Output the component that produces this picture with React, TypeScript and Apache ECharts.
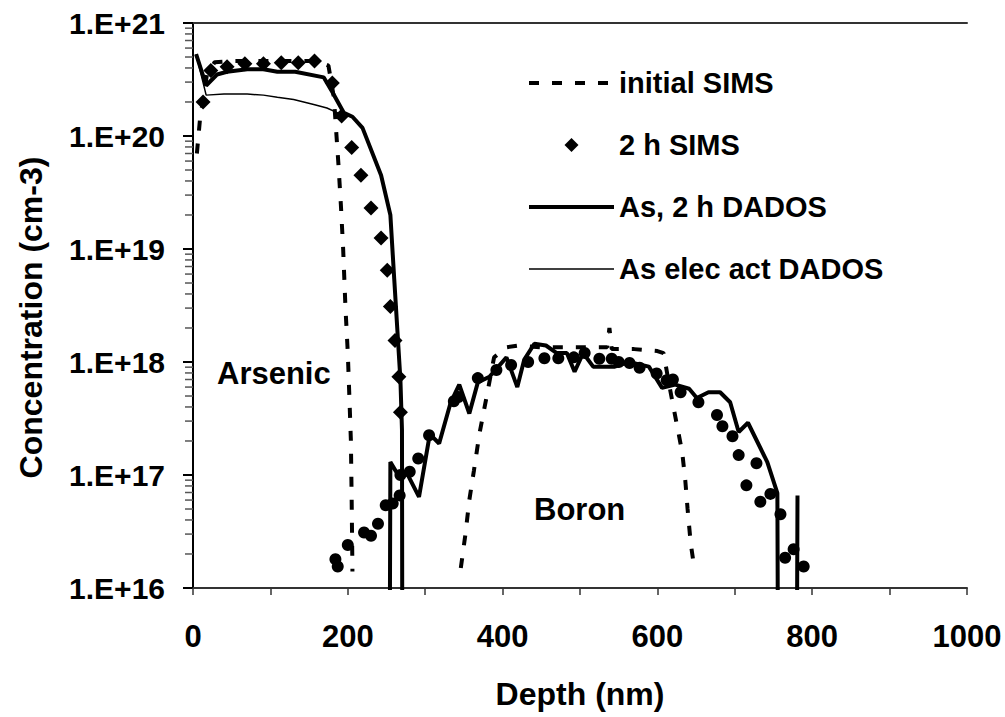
import React, { useEffect, useRef } from "react";
import * as echarts from "echarts";

// ---- data (depth nm, concentration cm-3) ----
const asInitialSims: [number, number][] = [
  [5, 7e19], [9, 1.4e20], [18, 3.5e20], [28, 4.5e20], [50, 4.6e20], [80, 4.6e20],
  [110, 4.6e20], [140, 4.6e20], [160, 4.6e20], [175, 4.2e20], [182, 2.2e20],
  [185, 1.1e20], [188, 5.5e19], [191, 2.5e19], [194, 1e19], [197, 3e18],
  [200, 1.2e18], [202, 5e17], [204, 2e17], [205, 6e16], [206, 1.4e16],
];

const bInitialSims: [number, number][] = [
  [346, 1.5e16], [352, 3e16], [357, 6e16], [363, 1.1e17], [370, 2.3e17], [379, 4.8e17],
  [389, 1.1e18], [405, 1.35e18], [420, 1.4e18], [450, 1.35e18], [480, 1.35e18],
  [510, 1.35e18], [535, 1.35e18], [538, 2e18], [541, 1.3e18], [570, 1.3e18],
  [600, 1.25e18], [608, 1.2e18], [614, 7e17], [619, 4.6e17], [626, 2.6e17],
  [632, 1.6e17], [636, 9e16], [639, 5e16], [643, 2.5e16], [648, 1.45e16],
];

const as2hSims: [number, number][] = [
  [13, 2e20], [23, 3.8e20], [44, 4.1e20], [67, 4.35e20], [91, 4.35e20], [114, 4.45e20],
  [136, 4.45e20], [157, 4.6e20], [180, 2.95e20], [192, 1.5e20], [205, 7.9e19],
  [217, 4.5e19], [230, 2.3e19], [243, 1.25e19], [251, 6.5e18], [255, 3.1e18],
  [261, 1.55e18], [266, 7.4e17], [268, 3.6e17],
];

const b2hSims: [number, number][] = [
  [184, 1.8e16], [187, 1.55e16], [200, 2.4e16], [221, 3.1e16], [230, 2.9e16],
  [239, 3.7e16], [249, 5.4e16], [258, 5.6e16], [267, 6.6e16], [268, 1.0e17],
  [280, 1.07e17], [291, 1.4e17], [305, 2.25e17], [337, 4.5e17], [343, 4.9e17],
  [368, 7.2e17], [392, 8.5e17], [411, 9.4e17], [433, 1.0e18], [454, 1.08e18],
  [472, 1.08e18], [492, 1.1e18], [506, 1.2e18], [525, 1.07e18], [541, 1.07e18],
  [550, 1.0e18], [564, 9.8e17], [577, 8.9e17], [599, 7.9e17], [612, 6.9e17],
  [620, 7e17], [630, 5.4e17], [653, 4.4e17], [677, 3.4e17], [684, 2.7e17],
  [697, 2.2e17], [705, 1.5e17], [715, 8.1e16], [728, 1.27e17], [733, 5.8e16],
  [746, 6.8e16], [759, 4.5e16], [765, 1.85e16], [776, 2.2e16], [789, 1.55e16],
];

const asDados: [number, number][] = [
  [4, 5.3e20], [17, 2.8e20], [31, 3.5e20], [44, 3.7e20], [70, 3.9e20], [91, 3.9e20],
  [109, 3.7e20], [132, 3.7e20], [169, 3.3e20], [180, 2.45e20], [195, 1.6e20],
  [206, 1.48e20], [219, 1.18e20], [243, 4.5e19], [255, 2e19], [260, 5.4e18],
  [268, 6.9e17], [270, 2.5e17], [270.5, 1e15],
];

const asElecActDados: [number, number][] = [
  [4, 5.3e20], [17, 2.3e20], [40, 2.35e20], [70, 2.35e20], [91, 2.3e20], [109, 2.2e20],
  [130, 2.1e20], [156, 1.9e20], [173, 1.77e20], [187, 1.6e20], [195, 1.55e20],
  [206, 1.48e20], [219, 1.18e20], [243, 4.5e19], [255, 2e19], [260, 5.4e18],
  [268, 6.9e17], [270, 2.5e17], [270.5, 1e15],
];

const bDados: [number, number][] = [
  [254, 1e15], [255, 1.3e17], [267, 9.5e16], [276, 1.05e17], [292, 6.4e16],
  [306, 2.3e17], [318, 1.9e17], [333, 4.4e17], [344, 6.3e17], [357, 3.5e17],
  [368, 6.6e17], [383, 7.4e17], [405, 1.1e18], [419, 6e17], [428, 1.05e18],
  [441, 1.45e18], [456, 1.4e18], [470, 1.2e18], [483, 1.2e18], [493, 8.2e17],
  [504, 1.2e18], [517, 9.1e17], [545, 9.1e17], [563, 1.0e18], [589, 9.1e17],
  [606, 5.9e17], [623, 6.3e17], [641, 5.8e17], [651, 4.8e17], [666, 5.4e17],
  [681, 5.4e17], [694, 4.4e17], [705, 2.4e17], [717, 2.9e17], [742, 1.3e17],
  [755, 6.9e16], [756, 1e15], [780, 1e15], [781, 6.6e16],
];

const legendNames = ["initial SIMS", "2 h SIMS", "As, 2 h DADOS", "As elec act DADOS"];
const minorMultipliers = [2, 3, 4, 5, 6, 7, 8, 9];
const decades = [16, 17, 18, 19, 20];

const FONT = '"Liberation Sans", Arial, sans-serif';
const DASH = [10, 13];
// legend icon for the diamond-only series: a small diamond centred in the 85px-wide icon box
const DIAMOND_ICON = "path://M0,7L0,7M85,7L85,7M42.5,0L49.5,7L42.5,14L35.5,7Z";

export default function App() {
  const ref = useRef<HTMLDivElement>(null);
  useEffect(() => {
    if (!ref.current) return;
    const chart = echarts.init(ref.current, undefined, { renderer: "svg" });
    const minorTicks: number[][] = [];
    decades.forEach((d) => minorMultipliers.forEach((m) => minorTicks.push([0, m * Math.pow(10, d)])));

    const noSymbol = { opacity: 0, color: "rgba(0,0,0,0)", borderWidth: 0 };

    chart.setOption({
      animation: false,
      backgroundColor: "#fff",
      textStyle: { fontFamily: FONT, fontWeight: "bold", color: "#000" },
      grid: { left: 193, right: 38, top: 23, bottom: 129 },
      legend: {
        show: true,
        orient: "vertical",
        left: 527,
        top: 68,
        padding: 0,
        itemWidth: 85,
        itemHeight: 14,
        itemGap: 32,
        itemTextGap: 8,
        symbolKeepAspect: false,
        textStyle: { fontFamily: FONT, fontWeight: "bold", fontSize: 29, color: "#000", lineHeight: 30 },
        data: [
          { name: legendNames[0], itemStyle: noSymbol, lineStyle: { width: 4, type: DASH, color: "#000" } },
          { name: legendNames[1], icon: DIAMOND_ICON, itemStyle: { color: "#000", opacity: 1 } },
          { name: legendNames[2], itemStyle: noSymbol, lineStyle: { width: 4, color: "#000" } },
          { name: legendNames[3], itemStyle: noSymbol, lineStyle: { width: 1.5, color: "#000" } },
        ],
      },
      xAxis: [
        {
          type: "value",
          min: 0,
          max: 1000,
          interval: 100,
          name: "Depth (nm)",
          nameLocation: "middle",
          nameGap: 90,
          nameTextStyle: { fontFamily: FONT, fontWeight: "bold", fontSize: 32, color: "#000" },
          axisLine: { show: true, onZero: false, lineStyle: { color: "#333", width: 2 } },
          axisTick: { show: true, inside: false, length: 7, lineStyle: { color: "#333", width: 1.5 } },
          axisLabel: {
            margin: 33,
            fontFamily: FONT,
            fontWeight: "bold",
            fontSize: 31,
            color: "#000",
            formatter: (v: number) => (v % 200 === 0 ? String(v) : ""),
          },
          splitLine: { show: false },
        },
        {
          type: "value",
          position: "top",
          min: 0,
          max: 1000,
          axisLine: { show: true, onZero: false, lineStyle: { color: "#333", width: 2 } },
          axisTick: { show: false },
          axisLabel: { show: false },
          splitLine: { show: false },
        },
      ],
      yAxis: {
        type: "log",
        logBase: 10,
        min: 1e16,
        max: 1e21,
        name: "Concentration (cm-3)",
        nameLocation: "middle",
        nameGap: 146,
        nameRotate: 90,
        nameTextStyle: {
          fontFamily: FONT,
          fontWeight: "bold",
          fontSize: 32,
          color: "#000",
          padding: [0, 24, 0, 0],
        },
        axisLine: { show: true, onZero: false, lineStyle: { color: "#000", width: 2 } },
        axisTick: { show: true, inside: false, length: 10, lineStyle: { color: "#000", width: 2 } },
        axisLabel: {
          margin: 28,
          fontFamily: FONT,
          fontWeight: "bold",
          fontSize: 30,
          color: "#000",
          formatter: (v: number) => "1.E+" + Math.round(Math.log10(v)),
        },
        splitLine: { show: false },
      },
      graphic: [
        {
          type: "text",
          x: 217,
          y: 373,
          style: { text: "Arsenic", font: `bold 31px ${FONT}`, fill: "#000", align: "left", verticalAlign: "middle" },
        },
        {
          type: "text",
          x: 534,
          y: 509,
          style: { text: "Boron", font: `bold 31px ${FONT}`, fill: "#000", align: "left", verticalAlign: "middle" },
        },
      ],
      series: [
        {
          name: "minor ticks",
          type: "custom",
          silent: true,
          clip: false,
          xAxisIndex: 0,
          data: minorTicks,
          renderItem: (params: any, api: any) => {
            const p = api.coord([api.value(0), api.value(1)]);
            return {
              type: "line",
              shape: { x1: p[0] - 8, y1: p[1], x2: p[0], y2: p[1] },
              style: { stroke: "#555", lineWidth: 1.5 },
            };
          },
        },
        {
          name: legendNames[0],
          type: "line",
          data: asInitialSims,
          symbol: "none",
          clip: true,
          lineStyle: { color: "#000", width: 4, type: DASH },
          itemStyle: { color: "#000" },
        },
        {
          name: legendNames[0],
          type: "line",
          data: bInitialSims,
          symbol: "none",
          clip: true,
          lineStyle: { color: "#000", width: 4, type: DASH },
          itemStyle: { color: "#000" },
        },
        {
          name: legendNames[2],
          type: "line",
          data: asDados,
          symbol: "none",
          clip: true,
          lineStyle: { color: "#000", width: 4 },
          itemStyle: { color: "#000" },
        },
        {
          name: legendNames[3],
          type: "line",
          data: asElecActDados,
          symbol: "none",
          clip: true,
          lineStyle: { color: "#000", width: 1.5 },
          itemStyle: { color: "#000" },
        },
        {
          name: "B, 2 h DADOS",
          type: "line",
          data: bDados,
          symbol: "none",
          clip: true,
          lineStyle: { color: "#000", width: 4 },
          itemStyle: { color: "#000" },
        },
        {
          name: legendNames[1],
          type: "scatter",
          data: as2hSims,
          symbol: "diamond",
          symbolSize: 15,
          itemStyle: { color: "#000", opacity: 1 },
        },
        {
          name: "B, 2 h SIMS",
          type: "scatter",
          data: b2hSims,
          symbol: "circle",
          symbolSize: 12,
          itemStyle: { color: "#000", opacity: 1 },
        },
      ],
    });
    return () => chart.dispose();
  }, []);
  return (
    <div
      ref={ref}
      style={{ position: "absolute", left: 0, top: 0, width: 1005, height: 717, background: "#fff" }}
    />
  );
}
